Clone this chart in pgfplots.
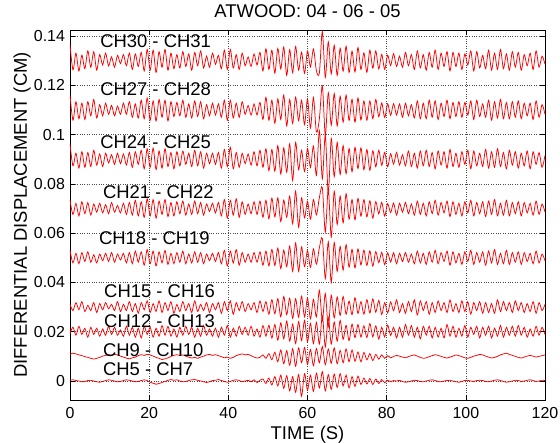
\documentclass[border=0pt]{standalone}
\usepackage{fontspec}
\setmainfont{Liberation Sans}
\usepackage{pgfplots}
\pgfplotsset{compat=1.18}
\usepackage{pgfplotstable}

% values in 1e-3 cm, sampled every 0.75 s from t = 0 s
\pgfplotstableread[row sep=\\]{v\\
6.5\\ -3.8\\ 3.0\\ -4.2\\ 2.2\\ -3.3\\ 3.9\\ -2.7\\ 3.6\\ -3.9\\
2.4\\ -1.8\\ 3.0\\ -2.2\\ 1.5\\ -2.7\\ 2.1\\ -1.2\\ 2.4\\ -2.1\\
3.0\\ -3.6\\ 2.7\\ -2.4\\ 3.3\\ -4.2\\ 4.5\\ -3.9\\ 4.2\\ -4.8\\
3.6\\ -2.7\\ 4.5\\ -3.9\\ 3.0\\ -3.3\\ 2.4\\ -3.0\\ 3.6\\ -2.4\\
2.7\\ -3.9\\ 3.3\\ -2.1\\ 3.9\\ -3.0\\ 1.8\\ -2.7\\ 3.0\\ -1.5\\
2.1\\ -3.3\\ 4.2\\ -3.6\\ 4.5\\ -3.0\\ 2.4\\ -3.6\\ 3.0\\ -2.1\\
1.5\\ -2.4\\ 2.7\\ -1.8\\ 3.3\\ -4.2\\ 4.8\\ -3.6\\ 4.2\\ -5.1\\
4.9\\ -3.4\\ 5.5\\ -6.0\\ 4.4\\ -4.9\\ 5.7\\ -3.9\\ 3.4\\ -5.2\\
3.9\\ -2.6\\ 4.7\\ -4.2\\ -5.0\\ 11.8\\ -6.8\\ 7.6\\ -5.4\\ 6.2\\
-6.0\\ 5.0\\ -4.3\\ 5.8\\ -4.8\\ 3.8\\ -4.6\\ 5.3\\ -3.6\\ 3.1\\
-4.8\\ 4.2\\ -3.1\\ 3.9\\ -3.4\\ 2.5\\ -3.6\\ 2.2\\ -2.0\\ 2.8\\
-2.4\\ 1.8\\ -2.7\\ 3.3\\ -2.1\\ 2.4\\ -3.6\\ 3.9\\ -3.0\\ 2.4\\
-3.9\\ 3.3\\ -2.7\\ 4.2\\ -3.6\\ 3.0\\ -2.4\\ 3.6\\ -4.2\\ 3.3\\
-2.4\\ 3.0\\ -3.6\\ 2.7\\ -1.8\\ 3.9\\ -4.2\\ 3.6\\ -3.0\\ 2.1\\
-3.3\\ 4.2\\ -3.9\\ 3.0\\ -3.6\\ 4.5\\ -3.3\\ 2.7\\ -3.9\\ 3.6\\
-2.7\\ 3.3\\ -3.9\\ 2.4\\ -2.1\\ 3.0\\ -3.6\\ 3.9\\ -2.7\\ 1.8\\ -1.5\\
}\tA
\pgfplotstableread[row sep=\\]{v\\
6.0\\ -4.2\\ 3.3\\ -3.6\\ 2.7\\ -3.9\\ 3.3\\ -2.4\\ 4.2\\ -3.3\\
2.1\\ -2.4\\ 2.7\\ -1.8\\ 1.8\\ -2.4\\ 1.5\\ -1.8\\ 2.7\\ -1.8\\
3.3\\ -3.0\\ 2.4\\ -3.3\\ 3.9\\ -3.6\\ 4.8\\ -4.2\\ 3.6\\ -4.5\\
4.2\\ -3.0\\ 3.9\\ -4.5\\ 3.3\\ -2.7\\ 3.0\\ -2.4\\ 3.9\\ -3.0\\
2.4\\ -3.3\\ 3.6\\ -2.7\\ 3.3\\ -3.6\\ 2.1\\ -2.4\\ 2.7\\ -2.1\\
2.4\\ -3.0\\ 3.9\\ -4.2\\ 3.9\\ -3.3\\ 2.7\\ -3.0\\ 3.3\\ -1.8\\
1.8\\ -2.1\\ 2.4\\ -2.1\\ 3.0\\ -3.9\\ 5.1\\ -4.2\\ 3.9\\ -5.4\\
4.4\\ -3.9\\ 6.0\\ -6.5\\ 4.2\\ -5.5\\ 5.2\\ -4.4\\ 3.9\\ -6.0\\
4.4\\ -7.4\\ 5.0\\ -9.0\\ -3.6\\ 9.8\\ -10.4\\ 7.0\\ -6.2\\ 6.6\\
-6.5\\ 5.5\\ -5.0\\ 6.0\\ -4.3\\ 4.3\\ -5.0\\ 4.8\\ -4.1\\ 3.6\\
-4.2\\ 3.6\\ -3.6\\ 4.2\\ -2.8\\ 2.8\\ -3.1\\ 2.5\\ -2.2\\ 2.5\\
-2.1\\ 2.4\\ -3.0\\ 2.7\\ -2.4\\ 2.1\\ -3.3\\ 3.6\\ -3.6\\ 2.7\\
-3.6\\ 3.9\\ -3.0\\ 3.6\\ -3.9\\ 2.7\\ -2.7\\ 3.9\\ -3.6\\ 3.0\\
-2.7\\ 3.3\\ -3.0\\ 3.0\\ -2.1\\ 3.6\\ -3.9\\ 3.9\\ -2.7\\ 2.4\\
-3.0\\ 3.9\\ -4.2\\ 3.3\\ -3.3\\ 4.2\\ -3.6\\ 3.0\\ -3.6\\ 3.3\\
-3.0\\ 3.6\\ -3.6\\ 2.7\\ -2.4\\ 2.7\\ -3.9\\ 3.6\\ -3.0\\ 2.1\\ -1.8\\
}\tB
\pgfplotstableread[row sep=\\]{v\\
6.2\\ -2.7\\ 2.4\\ -3.6\\ 3.0\\ -3.3\\ 2.7\\ -3.0\\ 3.6\\ -2.4\\
2.1\\ -3.0\\ 2.4\\ -1.5\\ 1.8\\ -2.1\\ 2.4\\ -1.8\\ 2.1\\ -2.4\\
2.7\\ -3.3\\ 3.0\\ -2.1\\ 3.6\\ -3.9\\ 4.2\\ -3.3\\ 4.5\\ -4.2\\
3.3\\ -3.6\\ 4.2\\ -3.0\\ 2.7\\ -3.9\\ 3.0\\ -2.7\\ 3.3\\ -2.1\\
2.4\\ -3.0\\ 3.6\\ -2.7\\ 3.0\\ -3.6\\ 2.4\\ -1.8\\ 2.4\\ -2.1\\
2.7\\ -3.6\\ 3.9\\ -3.0\\ 4.8\\ -3.9\\ 2.7\\ -3.3\\ 2.4\\ -1.8\\
2.1\\ -2.4\\ 3.0\\ -2.7\\ 3.6\\ -3.3\\ 4.2\\ -4.7\\ 3.9\\ -4.9\\
5.5\\ -6.0\\ 4.6\\ -5.3\\ 6.2\\ -8.6\\ 6.8\\ -4.3\\ 3.6\\ -5.0\\
4.3\\ -3.4\\ 5.3\\ -6.6\\ 11.6\\ -8.0\\ 9.8\\ -14.0\\ 8.4\\ -7.1\\
6.8\\ -6.2\\ 5.5\\ -5.9\\ 4.3\\ -5.1\\ 4.8\\ -3.8\\ 4.6\\ -4.3\\
3.9\\ -4.5\\ 3.4\\ -3.1\\ 3.6\\ -2.5\\ 2.8\\ -3.1\\ 2.2\\ -2.0\\
2.7\\ -2.4\\ 1.8\\ -2.7\\ 3.3\\ -3.0\\ 2.4\\ -3.6\\ 3.3\\ -2.7\\
3.6\\ -3.0\\ 2.7\\ -3.9\\ 3.3\\ -2.4\\ 3.0\\ -3.6\\ 3.9\\ -3.0\\
2.4\\ -3.3\\ 3.0\\ -2.1\\ 3.6\\ -3.9\\ 3.3\\ -2.7\\ 2.4\\ -3.0\\
3.9\\ -3.6\\ 3.0\\ -3.3\\ 4.2\\ -3.0\\ 2.7\\ -3.9\\ 3.6\\ -2.4\\
3.0\\ -3.6\\ 2.4\\ -2.7\\ 3.3\\ -3.9\\ 3.0\\ -2.1\\ 2.7\\ -3.3\\ 1.5\\
}\tC
\pgfplotstableread[row sep=\\]{v\\
3.4\\ -2.4\\ 2.1\\ -3.0\\ 2.7\\ -2.1\\ 2.4\\ -2.7\\ 1.8\\ -1.5\\
2.1\\ -1.8\\ 1.5\\ -2.1\\ 2.4\\ -1.5\\ 1.2\\ -1.8\\ 2.1\\ -2.4\\
2.4\\ -2.7\\ 3.3\\ -3.0\\ 2.7\\ -3.6\\ 3.9\\ -3.0\\ 3.6\\ -3.9\\
3.0\\ -2.4\\ 3.6\\ -3.3\\ 2.4\\ -3.0\\ 2.7\\ -2.1\\ 3.0\\ -2.7\\
1.8\\ -2.4\\ 3.0\\ -2.1\\ 2.4\\ -2.7\\ 1.8\\ -1.2\\ 2.1\\ -1.8\\
2.4\\ -3.0\\ 3.6\\ -3.9\\ 3.3\\ -2.7\\ 3.9\\ -3.6\\ 2.7\\ -2.4\\
1.8\\ -2.1\\ 2.7\\ -2.4\\ 3.0\\ -3.6\\ 3.3\\ -4.2\\ 4.2\\ -3.4\\
4.3\\ -5.3\\ 3.4\\ -3.6\\ 5.0\\ -6.2\\ 7.0\\ -7.6\\ 4.3\\ -3.8\\
2.9\\ -4.3\\ 3.6\\ -2.6\\ 4.4\\ 8.4\\ -9.6\\ 7.8\\ -11.6\\ 7.0\\
-6.5\\ 5.0\\ -5.8\\ 6.0\\ -4.3\\ 3.6\\ -4.6\\ 4.1\\ -3.1\\ 3.6\\
-3.4\\ 3.1\\ -3.9\\ 2.8\\ -2.2\\ 2.5\\ -3.1\\ 2.0\\ -1.7\\ 2.2\\
-2.7\\ 2.1\\ -1.5\\ 2.4\\ -2.1\\ 1.8\\ -2.7\\ 3.0\\ -2.4\\ 2.1\\
-3.0\\ 2.7\\ -2.1\\ 3.3\\ -2.7\\ 2.4\\ -1.8\\ 3.0\\ -3.3\\ 2.7\\
-2.4\\ 2.1\\ -3.0\\ 2.7\\ -1.8\\ 3.3\\ -3.0\\ 2.4\\ -2.1\\ 2.7\\
-3.3\\ 3.0\\ -2.4\\ 3.6\\ -3.0\\ 2.1\\ -2.7\\ 3.3\\ -3.0\\ 2.4\\
-2.1\\ 2.7\\ -3.0\\ 2.4\\ -1.8\\ 2.1\\ -2.7\\ 3.0\\ -2.4\\ 1.8\\ -1.5\\
}\tD
\pgfplotstableread[row sep=\\]{v\\
3.0\\ -2.1\\ 1.8\\ -2.4\\ 2.1\\ -1.5\\ 2.4\\ -1.8\\ 1.2\\ -2.1\\
1.5\\ -1.2\\ 1.8\\ -1.5\\ 2.1\\ -1.8\\ 1.5\\ -0.9\\ 1.8\\ -2.1\\
2.1\\ -2.4\\ 2.7\\ -1.8\\ 2.4\\ -3.0\\ 3.3\\ -2.4\\ 2.7\\ -3.3\\
2.4\\ -2.1\\ 3.0\\ -2.7\\ 1.8\\ -2.4\\ 2.1\\ -1.8\\ 2.7\\ -2.4\\
1.5\\ -2.1\\ 2.4\\ -1.8\\ 2.1\\ -2.4\\ 1.5\\ -1.2\\ 1.8\\ -1.5\\
2.1\\ -2.4\\ 3.0\\ -3.3\\ 2.7\\ -2.1\\ 3.3\\ -3.0\\ 2.1\\ -1.8\\
1.5\\ -1.8\\ 2.1\\ -1.8\\ 2.4\\ -3.0\\ 2.7\\ -3.3\\ 3.4\\ -3.1\\
3.9\\ -4.4\\ 3.1\\ -3.6\\ 4.7\\ -5.5\\ 6.0\\ -5.5\\ 4.4\\ -3.6\\
2.9\\ -3.9\\ 3.6\\ -2.6\\ 4.1\\ 7.8\\ -8.4\\ 6.4\\ -10.0\\ 6.2\\
-5.5\\ 4.6\\ -5.0\\ 5.3\\ -3.8\\ 3.4\\ -4.1\\ 3.6\\ -2.9\\ 3.1\\
-3.1\\ 2.8\\ -3.4\\ 2.5\\ -2.0\\ 2.2\\ -2.8\\ 2.0\\ -1.7\\ 2.0\\
-2.4\\ 1.8\\ -1.5\\ 2.1\\ -1.8\\ 1.5\\ -2.4\\ 2.7\\ -2.1\\ 1.8\\
-2.7\\ 2.4\\ -1.8\\ 3.0\\ -2.4\\ 2.1\\ -1.5\\ 2.7\\ -3.0\\ 2.4\\
-2.1\\ 1.8\\ -2.7\\ 2.4\\ -1.5\\ 3.0\\ -2.7\\ 2.1\\ -1.8\\ 2.4\\
-3.0\\ 2.7\\ -2.1\\ 3.3\\ -2.7\\ 1.8\\ -2.4\\ 3.0\\ -2.7\\ 2.1\\
-1.8\\ 2.4\\ -2.7\\ 2.1\\ -1.5\\ 1.8\\ -2.4\\ 2.7\\ -2.1\\ 1.5\\ -1.2\\
}\tE
\pgfplotstableread[row sep=\\]{v\\
1.1\\ -1.4\\ 1.8\\ -1.1\\ 2.2\\ -1.8\\ 0.7\\ -1.4\\ 1.8\\ -2.2\\
1.4\\ -1.1\\ 1.8\\ -0.7\\ 1.1\\ -1.4\\ 2.2\\ -1.8\\ 1.1\\ -1.4\\
2.2\\ -1.8\\ 1.4\\ -2.5\\ 1.8\\ -1.1\\ 2.5\\ -2.2\\ 1.4\\ -1.8\\
2.5\\ -2.2\\ 1.8\\ -1.4\\ 2.2\\ -2.5\\ 1.1\\ -1.8\\ 2.2\\ -1.4\\
1.4\\ -2.2\\ 2.5\\ -1.8\\ 1.1\\ -1.4\\ 1.8\\ -2.2\\ 1.4\\ -1.1\\
1.8\\ -2.5\\ 2.2\\ -1.4\\ 2.5\\ -2.9\\ 1.8\\ -1.4\\ 2.2\\ -1.8\\
1.4\\ -1.1\\ 1.8\\ -2.2\\ 2.5\\ -1.8\\ 2.2\\ -2.9\\ 3.0\\ -2.7\\
3.4\\ -4.0\\ 4.3\\ -3.1\\ 3.6\\ -4.6\\ 3.4\\ -4.1\\ 4.4\\ -4.0\\
3.5\\ -4.8\\ 3.1\\ -4.0\\ 6.8\\ -5.6\\ 5.5\\ -8.0\\ 4.8\\ -4.4\\
4.1\\ -3.4\\ 4.3\\ -2.9\\ 2.4\\ -3.1\\ 3.8\\ -2.6\\ 2.2\\ -2.9\\
3.0\\ -2.4\\ 3.3\\ -2.1\\ 2.7\\ -3.0\\ 1.8\\ -2.4\\ 2.1\\ -1.5\\
2.9\\ -2.2\\ 1.4\\ -2.5\\ 2.2\\ -1.8\\ 2.9\\ -3.2\\ 2.5\\ -1.4\\
2.2\\ -2.9\\ 1.8\\ -2.2\\ 2.5\\ -1.4\\ 1.8\\ -2.2\\ 2.9\\ -1.8\\
1.4\\ -2.2\\ 2.5\\ -1.8\\ 2.2\\ -2.9\\ 1.8\\ -1.4\\ 2.2\\ -2.5\\
1.8\\ -2.2\\ 1.4\\ -2.5\\ 2.9\\ -1.8\\ 2.2\\ -1.4\\ 1.8\\ -2.2\\
2.5\\ -1.4\\ 1.8\\ -2.2\\ 1.4\\ -1.8\\ 2.2\\ -2.5\\ 1.8\\ -1.4\\ 1.1\\
}\tF
\pgfplotstableread[row sep=\\]{v\\
-0.7\\ 1.8\\ -1.4\\ 2.2\\ -1.1\\ 1.4\\ -2.2\\ 1.8\\ -1.1\\ 1.4\\
-1.8\\ 1.1\\ -1.4\\ 2.2\\ -1.1\\ 1.8\\ -1.4\\ 0.7\\ -1.8\\ 2.2\\
-1.4\\ 1.8\\ -2.2\\ 1.4\\ -2.5\\ 2.2\\ -1.1\\ 1.8\\ -2.2\\ 1.4\\
-1.8\\ 2.5\\ -1.4\\ 2.2\\ -1.8\\ 1.1\\ -2.2\\ 1.8\\ -1.4\\ 2.2\\
-1.1\\ 1.8\\ -2.2\\ 1.4\\ -1.8\\ 2.5\\ -1.4\\ 1.1\\ -1.8\\ 1.4\\
-2.2\\ 1.8\\ -1.4\\ 2.5\\ -2.2\\ 1.4\\ -1.8\\ 2.2\\ -1.1\\ 1.8\\
-1.4\\ 2.2\\ -1.8\\ 1.1\\ -2.2\\ 2.5\\ -1.8\\ 2.6\\ -2.6\\ 2.9\\
-3.4\\ 3.6\\ -2.9\\ 4.3\\ -3.8\\ 3.1\\ -4.8\\ 4.1\\ -3.6\\ 4.6\\
-4.0\\ 3.4\\ -4.8\\ 3.8\\ -5.0\\ 6.4\\ -6.2\\ 5.8\\ -5.0\\ 4.0\\
-3.8\\ 4.6\\ -3.1\\ 2.6\\ -3.6\\ 3.1\\ -2.4\\ 2.9\\ -2.2\\ 2.4\\
-2.4\\ 3.3\\ -2.1\\ 2.4\\ -3.0\\ 1.8\\ -2.1\\ 2.7\\ -1.5\\ 1.8\\
-2.5\\ 1.8\\ -2.2\\ 2.9\\ -1.4\\ 2.5\\ -2.2\\ 1.8\\ -2.9\\ 2.2\\
-1.4\\ 2.2\\ -2.5\\ 1.8\\ -2.2\\ 1.4\\ -2.5\\ 2.9\\ -1.8\\ 2.2\\
-2.2\\ 1.4\\ -1.8\\ 2.5\\ -2.2\\ 1.8\\ -1.1\\ 2.2\\ -2.5\\ 1.8\\
-1.4\\ 2.2\\ -2.5\\ 1.4\\ -1.8\\ 2.5\\ -2.2\\ 1.8\\ -1.4\\ 2.2\\
-1.8\\ 2.5\\ -1.4\\ 1.8\\ -2.2\\ 1.1\\ -1.8\\ 2.2\\ -1.4\\ 1.8\\ -1.1\\
}\tG
\pgfplotstableread[row sep=\\]{v\\
0.8\\ 1.3\\ 1.0\\ 0.6\\ 0.3\\ -0.1\\ -0.4\\ -0.8\\ -1.1\\ -0.8\\
-0.4\\ 0.1\\ 0.4\\ 0.7\\ 0.4\\ 0.8\\ 0.6\\ 0.1\\ -0.3\\ -0.7\\
-1.0\\ -0.6\\ -0.3\\ 0.3\\ 0.7\\ 0.4\\ 0.8\\ 0.6\\ 0.1\\ -0.4\\
-0.8\\ -1.3\\ -1.0\\ -0.6\\ 0.0\\ 0.4\\ 0.7\\ 0.3\\ 0.6\\ 0.1\\
-0.3\\ -0.7\\ -0.4\\ -0.8\\ -0.3\\ 0.1\\ 0.6\\ 0.8\\ 0.4\\ 0.7\\
0.3\\ -0.1\\ -0.6\\ -0.3\\ -0.8\\ -0.4\\ 0.3\\ 0.7\\ 1.0\\ 0.6\\
0.8\\ 0.3\\ -0.3\\ -0.7\\ -0.4\\ 0.6\\ -0.8\\ 1.1\\ -1.4\\ 1.7\\
-2.2\\ 2.6\\ -3.0\\ 2.3\\ -3.6\\ 3.1\\ -4.0\\ 3.4\\ -2.6\\ 3.6\\
-3.2\\ 2.8\\ -3.8\\ 3.2\\ -2.6\\ 4.0\\ -3.4\\ 3.0\\ -2.8\\ 3.4\\
-3.0\\ 2.4\\ -2.6\\ 3.0\\ -2.2\\ 2.6\\ -2.0\\ 1.8\\ -2.2\\ 1.6\\
-1.4\\ 1.1\\ -1.7\\ 0.8\\ -1.1\\ 0.6\\ -0.8\\ 0.3\\ -0.6\\ 0.0\\
0.4\\ 0.1\\ -0.3\\ -0.6\\ -0.1\\ 0.3\\ 0.6\\ 0.1\\ -0.4\\ -0.8\\
-0.6\\ -0.1\\ 0.3\\ 0.7\\ 0.4\\ 0.0\\ -0.4\\ -0.7\\ -0.3\\ 0.1\\
0.6\\ 0.3\\ -0.1\\ -0.6\\ -0.8\\ -0.4\\ 0.1\\ 0.4\\ 0.8\\ 0.6\\
0.1\\ -0.3\\ -0.7\\ -0.4\\ 0.0\\ 0.6\\ 1.0\\ 1.3\\ 0.8\\ 0.4\\
0.0\\ -0.4\\ -0.7\\ -0.3\\ 0.1\\ 0.4\\ 0.1\\ -0.3\\ 0.0\\ 0.3\\ 0.6\\
}\tH
\pgfplotstableread[row sep=\\]{v\\
0.3\\ 0.5\\ 0.2\\ 0.0\\ -0.3\\ -0.2\\ 0.2\\ 0.3\\ 0.0\\ -0.3\\
-0.5\\ -0.2\\ 0.2\\ 0.5\\ 0.3\\ 0.0\\ -0.3\\ -0.2\\ 0.2\\ 0.5\\
0.3\\ 0.0\\ -0.3\\ -0.2\\ 0.2\\ 0.5\\ 0.2\\ -0.5\\ -0.9\\ -1.3\\
-1.0\\ -0.6\\ -0.2\\ 0.3\\ 0.6\\ 0.3\\ 0.5\\ 0.0\\ -0.3\\ -0.2\\
0.2\\ 0.5\\ 0.6\\ 0.3\\ 0.0\\ -0.3\\ -0.6\\ -0.3\\ 0.2\\ 0.3\\
0.6\\ 0.2\\ -0.2\\ -0.5\\ -0.2\\ 0.3\\ 0.5\\ 0.2\\ -0.3\\ 0.0\\
0.3\\ -0.3\\ 0.5\\ -0.6\\ 0.3\\ 0.8\\ -1.0\\ 1.2\\ -1.6\\ 1.8\\
-2.0\\ 2.4\\ -3.0\\ 2.2\\ -4.0\\ 1.8\\ -4.6\\ 2.6\\ -6.2\\ 3.0\\
-3.6\\ 2.4\\ -4.2\\ 3.2\\ -2.8\\ 3.8\\ -4.0\\ 2.6\\ -3.4\\ 2.8\\
-2.6\\ 3.0\\ -2.0\\ 2.4\\ -2.8\\ 1.8\\ -2.2\\ 2.0\\ -1.4\\ 1.2\\
-1.2\\ 1.0\\ -1.4\\ 0.8\\ -1.0\\ 0.6\\ -0.7\\ 0.3\\ -0.3\\ 0.2\\
0.0\\ 0.3\\ -0.2\\ -0.5\\ -0.3\\ 0.0\\ 0.3\\ 0.2\\ -0.2\\ -0.3\\
0.0\\ 0.3\\ 0.5\\ 0.2\\ -0.2\\ -0.3\\ 0.0\\ 0.2\\ 0.3\\ 0.0\\
-0.3\\ -0.5\\ -0.2\\ 0.2\\ 0.3\\ 0.0\\ -0.2\\ 0.2\\ 0.3\\ 0.2\\
-0.2\\ -0.3\\ 0.0\\ 0.3\\ 0.5\\ 0.2\\ -0.2\\ -0.5\\ -0.3\\ 0.0\\
0.3\\ 0.2\\ -0.2\\ 0.0\\ 0.3\\ 0.5\\ 0.2\\ -0.2\\ 0.0\\ 0.3\\ 0.2\\
}\tK

\pgfplotsset{trace/.style={red, line width=0.75bp, smooth, tension=0.5}}

\begin{document}
\begin{tikzpicture}
\useasboundingbox (-70bp,-43bp) rectangle (490bp,400bp);
\begin{axis}[
  at={(0,0)}, anchor=south west,
  scale only axis, width=475bp, height=370bp,
  xmin=0, xmax=120, ymin=-0.0077, ymax=0.1424,
  xtick={0,20,40,60,80,100,120},
  ytick={0,0.02,0.04,0.06,0.08,0.1,0.12,0.14},
  scaled y ticks=false,
  yticklabel style={/pgf/number format/fixed,/pgf/number format/precision=2, xshift=-1.5bp},
  xticklabel style={yshift=-4bp},
  /pgf/number format/assume math mode=true,
  ticklabel style={font=\fontsize{16}{19}\selectfont},
  grid=major,
  grid style={dotted, black!70, line width=0.45pt},
  tick style={black, line width=0.5pt},
  major tick length=5bp,
  axis line style={black, line width=0.5pt},
  title={ATWOOD: 04 - 06 - 05},
  xlabel={TIME (S)},
  ylabel={DIFFERENTIAL DISPLACEMENT (CM)},
  title style={at={(axis description cs:0.5,1.034)}, anchor=center, font=\fontsize{18.5}{22}\selectfont},
  xlabel style={at={(axis description cs:0.5,-0.0935)}, anchor=center, font=\fontsize{18.5}{22}\selectfont},
  ylabel style={at={(axis description cs:-0.101,0.5)}, anchor=center, font=\fontsize{18.5}{22}\selectfont},
  clip=true,
]
\addplot[trace] table[x index=0, y index=0, x expr=\coordindex*0.75, y expr=\thisrow{v}/1000+0.13] {\tA};
\addplot[trace] table[x index=0, y index=0, x expr=\coordindex*0.75, y expr=\thisrow{v}/1000+0.11] {\tB};
\addplot[trace] table[x index=0, y index=0, x expr=\coordindex*0.75, y expr=\thisrow{v}/1000+0.09] {\tC};
\addplot[trace] table[x index=0, y index=0, x expr=\coordindex*0.75, y expr=\thisrow{v}/1000+0.07] {\tD};
\addplot[trace] table[x index=0, y index=0, x expr=\coordindex*0.75, y expr=\thisrow{v}/1000+0.05] {\tE};
\addplot[trace] table[x index=0, y index=0, x expr=\coordindex*0.75, y expr=\thisrow{v}/1000+0.03] {\tF};
\addplot[trace] table[x index=0, y index=0, x expr=\coordindex*0.75, y expr=\thisrow{v}/1000+0.02] {\tG};
\addplot[trace] table[x index=0, y index=0, x expr=\coordindex*0.75, y expr=\thisrow{v}/1000+0.01] {\tH};
\addplot[trace] table[x index=0, y index=0, x expr=\coordindex*0.75, y expr=\thisrow{v}/1000] {\tK};
\begin{scope}[every node/.style={anchor=west, inner sep=0pt, font=\fontsize{18.5}{22}\selectfont}]
\node at (axis cs:7.6,0.138) {CH30 - CH31};
\node at (axis cs:7.6,0.1185) {CH27 - CH28};
\node at (axis cs:7.6,0.0967) {CH24 - CH25};
\node at (axis cs:8.3,0.0765) {CH21 - CH22};
\node at (axis cs:7.3,0.0579) {CH18 - CH19};
\node at (axis cs:8.6,0.0364) {CH15 - CH16};
\node at (axis cs:8.6,0.0243) {CH12 - CH13};
\node at (axis cs:8.3,0.0125) {CH9 - CH10};
\node at (axis cs:8.3,0.0049) {CH5 - CH7};
\end{scope}
\end{axis}
\end{tikzpicture}
\end{document}
